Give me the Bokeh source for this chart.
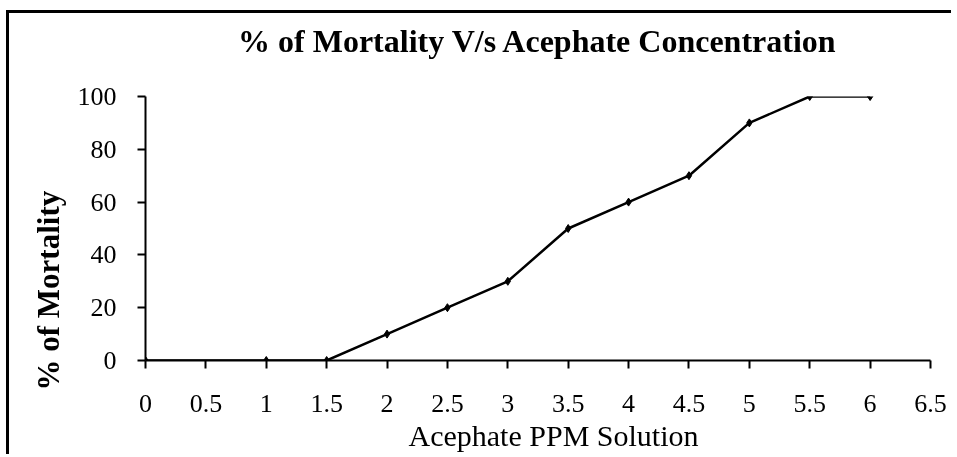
from bokeh.plotting import figure
from bokeh.models import Range1d, FixedTicker, Title, GlobalInlineStyleSheet
from bokeh.embed import file_html
from bokeh.resources import INLINE

# data
ppm = [0, 1, 1.5, 2, 2.5, 3, 3.5, 4, 4.5, 5, 5.5, 6]
mortality = [0, 0, 0, 10, 20, 30, 50, 60, 70, 90, 100, 100]
x_ticks = [0, 0.5, 1, 1.5, 2, 2.5, 3, 3.5, 4, 4.5, 5, 5.5, 6, 6.5]
y_ticks = [0, 20, 40, 60, 80, 100]
title_text = "% of Mortality V/s Acephate Concentration"
x_title = "Acephate PPM Solution"
y_title = "% of Mortality"

FONT = "Liberation Serif"

p = figure(width=945, height=444, output_backend="svg", toolbar_location=None,
           x_range=Range1d(0, 6.5), y_range=Range1d(0, 100),
           min_border_left=136, min_border_right=24, min_border_top=83, min_border_bottom=97)
p.outline_line_color = None
p.grid.visible = False

for ax in (p.xaxis[0], p.yaxis[0]):
    ax.axis_line_width = 2
    ax.axis_line_color = "black"
    ax.major_tick_line_width = 2
    ax.major_tick_line_color = "black"
    ax.major_tick_out = 8
    ax.major_tick_in = 0
    ax.minor_tick_line_color = None
    ax.major_label_text_font = FONT
    ax.major_label_text_font_size = "26px"
    ax.major_label_text_color = "black"

p.xaxis[0].ticker = FixedTicker(ticks=x_ticks)
p.yaxis[0].ticker = FixedTicker(ticks=y_ticks)
p.xaxis[0].major_label_standoff = 26
p.yaxis[0].major_label_standoff = 21
p.xaxis[0].major_label_overrides = {t: ("%g" % t) for t in x_ticks}

p.line(ppm, mortality, line_color="black", line_width=2.5)
p.scatter(ppm, mortality, marker="diamond", size=8, color="black")

# spacer between frame and chart title
p.add_layout(Title(text=" ", text_font=FONT, text_font_size="1px", standoff=35), "above")
p.add_layout(Title(text=title_text, text_font=FONT, text_font_size="32px",
                   text_font_style="bold", text_color="black",
                   align="center", standoff=0), "above")

p.add_layout(Title(text=x_title, text_font=FONT, text_font_size="30px",
                   text_font_style="normal", text_color="black",
                   align="left", offset=263, standoff=4), "below")
p.add_layout(Title(text=y_title, text_font=FONT, text_font_size="31px",
                   text_font_style="bold", text_color="black",
                   align="left", offset=-30, standoff=18), "left")

p.styles = {"box-shadow": "-3px -3px 0 0 black",
            "position": "fixed", "left": "9px", "top": "13px"}
p.stylesheets = [GlobalInlineStyleSheet(css="html, body { overflow: hidden !important; margin: 0; }")]

open("out.html", "w").write(file_html(p, INLINE))
